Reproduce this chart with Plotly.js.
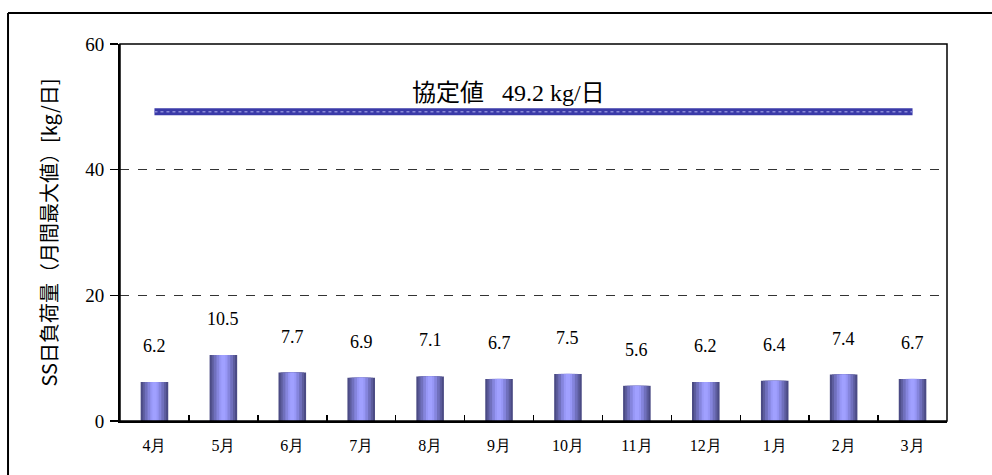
<!DOCTYPE html>
<html><head><meta charset="utf-8">
<script src="https://cdn.plot.ly/plotly-3.0.1.min.js"></script>
<style>body{margin:0;background:#fff}#c{width:992px;height:475px}</style>
</head><body><div id="c"></div>
<script>
const months = ["4月","5月","6月","7月","8月","9月","10月","11月","12月","1月","2月","3月"];
const ssLoad = [6.2,10.5,7.7,6.9,7.1,6.7,7.5,5.6,6.2,6.4,7.4,6.7];
const agreedValue = 49.2;
const yTicks = [0,20,40,60];

const F = "Times New Roman, Liberation Serif, DejaVu Serif, serif";
const G = "Noto Sans CJK JP, sans-serif";
const layers = [
  {w:0.40,c:"#4b4b85"},
  {w:0.34,c:"#5d5d9e"},
  {w:0.28,c:"#7070bd"},
  {w:0.20,c:"#8585dd"},
  {w:0.12,c:"#9797f6"},
  {w:0.06,c:"#a0a0ff"}
];
const traces = layers.map(l => ({
  type:"bar", x:months, y:ssLoad, width:l.w,
  marker:{color:l.c, line:{width:0}}, hoverinfo:"skip", showlegend:false
}));
traces.push({
  type:"scatter", mode:"lines", x:months, y:months.map(()=>agreedValue),
  line:{color:"#3a3aa8", width:7}, showlegend:false, hoverinfo:"skip"
});
traces.push({
  type:"scatter", mode:"lines", x:months, y:months.map(()=>agreedValue),
  line:{color:"#8a8ad8", width:1.5, dash:"dot"}, showlegend:false, hoverinfo:"skip"
});

const ann = months.map((m,i)=>({
  x:m, y:ssLoad[i], xref:"x", yref:"y", text:String(ssLoad[i]),
  showarrow:false, yshift:36, font:{family:F, size:18, color:"#000"}
}));
ann.push({
  xref:"paper", yref:"y", x:0.470, y:52.6, showarrow:false,
  text:"<span style='font-family:Noto Sans CJK JP'>協定値</span>   49.2 kg/<span style='font-family:Noto Sans CJK JP'>日</span>",
  font:{family:F, size:24, color:"#000"}
});

const layout = {
  width:992, height:475,
  margin:{l:120, r:45, t:44, b:54},
  paper_bgcolor:"#fff", plot_bgcolor:"#fff",
  barmode:"overlay",
  font:{family:F, color:"#000"},
  xaxis:{
    type:"category", showline:true, linecolor:"#000", linewidth:2,
    ticks:"inside", ticklen:6, tickwidth:1.5, tickcolor:"#000",
    tickson:"boundaries", showgrid:false, zeroline:false,
    tickfont:{family:F, size:16}, ticklabelstandoff:9, fixedrange:true
  },
  yaxis:{
    range:[0,60], tickvals:yTicks, showline:true, linecolor:"#000", linewidth:2,
    ticks:"outside", ticklen:8, tickwidth:1.5, tickcolor:"#000",
    ticklabelstandoff:2,
    showgrid:true, gridcolor:"#333", gridwidth:1, griddash:"dash",
    zeroline:false, tickfont:{family:F, size:19},
    title:{text:"SS日負荷量（月間最大値）[kg/日]", font:{family:G, size:20, color:"#000"}, standoff:22}
  },
  annotations:ann,
  shapes:[
    {type:"rect", xref:"paper", yref:"paper", x0:0, x1:1, y0:0, y1:1, line:{color:"#000", width:1.5}},
    {type:"line", xref:"paper", yref:"paper", x0:-0.1354, x1:-0.1354, y0:-0.2, y1:1.082, line:{color:"#000", width:2}},
    {type:"line", xref:"paper", yref:"paper", x0:-0.1354, x1:1.1, y0:1.082, y1:1.082, line:{color:"#000", width:2}}
  ]
};
Plotly.newPlot("c", traces, layout, {staticPlot:true});
</script></body></html>
